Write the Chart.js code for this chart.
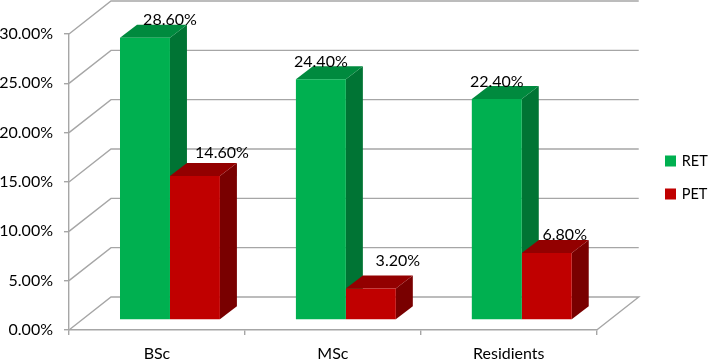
<!DOCTYPE html>
<html>
<head>
<meta charset="utf-8">
<style>
  html, body { margin: 0; padding: 0; background: #fff; }
  canvas { display: block; }
</style>
<script src="https://cdn.jsdelivr.net/npm/chart.js@4/dist/chart.umd.min.js"></script>
</head>
<body>
<canvas id="grafico" width="708" height="359"></canvas>
<script>
// DATA
const categorias = ["BSc", "MSc", "Residients"];
const valoresRET = [28.6, 24.4, 22.4];
const valoresPET = [14.6, 3.2, 6.8];

// 3D look
const fonte = "Lato";
const corGrade = "#a6a6a6";
const paredeDx = 42, paredeDy = 33;   // depth of the walls
const barraX = 13, barraY = 10;       // bars sit a little behind the front plane
const fundoDx = 17, fundoDy = 13;     // depth of one bar
const facesRET = { lado: "#007434", topo: "#008a3e" };
const facesPET = { lado: "#790000", topo: "#930000" };
// label shift from the bar centre, [dx, dy] above the bar top
const rotulosRET = [[25, 18], [0, 17], [0, 17]];
const rotulosPET = [[27, 23], [27, 28], [18, 18]];

function desenhaFaces(ctx, meta, faces) {
  meta.data.forEach((b) => {
    const e = b.x - b.width / 2, d = b.x + b.width / 2;
    ctx.fillStyle = faces.lado;
    ctx.beginPath();
    ctx.moveTo(d, b.y);
    ctx.lineTo(d + fundoDx, b.y - fundoDy);
    ctx.lineTo(d + fundoDx, b.base - fundoDy);
    ctx.lineTo(d, b.base);
    ctx.closePath();
    ctx.fill();
    ctx.fillStyle = faces.topo;
    ctx.beginPath();
    ctx.moveTo(e, b.y);
    ctx.lineTo(e + fundoDx, b.y - fundoDy);
    ctx.lineTo(d + fundoDx, b.y - fundoDy);
    ctx.lineTo(d, b.y);
    ctx.closePath();
    ctx.fill();
  });
}

const paredes = {
  id: "paredes",
  beforeDatasetsDraw(chart) {
    const { ctx, scales: { x, y } } = chart;
    ctx.save();
    ctx.strokeStyle = corGrade;
    ctx.lineWidth = 1.4;
    y.ticks.forEach((t) => {
      const py = y.getPixelForValue(t.value);
      ctx.beginPath();
      ctx.moveTo(x.left, py);
      ctx.lineTo(x.left + paredeDx, py - paredeDy);
      ctx.lineTo(x.right + paredeDx, py - paredeDy);
      if (t.value === 0) ctx.lineTo(x.right, py);
      ctx.stroke();
    });
    ctx.restore();
    // bars are drawn shifted back from the front plane
    ctx.save();
    ctx.translate(barraX, -barraY);
    // RET faces first so the PET tops lie over them
    desenhaFaces(ctx, chart.getDatasetMeta(0), facesRET);
    desenhaFaces(ctx, chart.getDatasetMeta(1), facesPET);
  },
  afterDatasetsDraw(chart) {
    chart.ctx.restore();
  },
  afterDraw(chart) {
    const { ctx } = chart;
    ctx.save();
    ctx.font = `16px ${fonte}`;
    ctx.fillStyle = "#000";
    ctx.textAlign = "center";
    ctx.textBaseline = "middle";
    [valoresRET, valoresPET].forEach((lista, i) => {
      const desloc = i === 0 ? rotulosRET : rotulosPET;
      chart.getDatasetMeta(i).data.forEach((b, j) => {
        ctx.fillText(lista[j].toFixed(2) + "%", b.x + barraX + desloc[j][0], b.y - barraY - desloc[j][1]);
      });
    });
    ctx.restore();
  },
  afterLayout(chart) {
    // legend sits far from the plot
    const l = chart.legend;
    const w = l.right - l.left;
    l.left = 648;
    l.right = l.left + w;
    l.top -= 19;
    l.bottom -= 19;
  }
};

new Chart(document.getElementById("grafico"), {
  type: "bar",
  data: {
    labels: categorias,
    datasets: [
      { label: "RET", data: valoresRET, backgroundColor: "#00b050", clip: false },
      { label: "PET", data: valoresPET, backgroundColor: "#c00000", clip: false }
    ]
  },
  options: {
    responsive: false,
    animation: false,
    devicePixelRatio: 1,
    layout: { padding: { top: 34, right: 41.5 } },
    datasets: { bar: { categoryPercentage: 0.568, barPercentage: 1 } },
    scales: {
      x: {
        grid: { drawOnChartArea: false, color: corGrade, lineWidth: 1.4, tickLength: 5 },
        border: { color: corGrade, width: 1.4 },
        ticks: { color: "#000", font: { family: fonte, size: 16 }, padding: 9 },
        afterFit(s) { s.height = 29; }
      },
      y: {
        min: 0,
        max: 30,
        grid: { drawOnChartArea: false, color: corGrade, lineWidth: 1.4, tickLength: 5 },
        border: { color: corGrade, width: 1.4 },
        ticks: {
          stepSize: 5,
          color: "#000",
          font: { family: fonte, size: 16 },
          padding: 11,
          callback: (v) => v.toFixed(2) + "%"
        },
        afterFit(s) { s.width = 69; }
      }
    },
    plugins: {
      title: { display: false },
      tooltip: { enabled: false },
      legend: {
        position: "right",
        labels: {
          color: "#000",
          font: { family: fonte, size: 14.5 },
          boxWidth: 8,
          boxHeight: 8,
          padding: 18.5,
          generateLabels(chart) {
            // thick stroke gives a full size swatch with the text close to it
            return Chart.defaults.plugins.legend.labels.generateLabels(chart).map((it) => ({
              ...it,
              strokeStyle: it.fillStyle,
              lineWidth: 3,
              lineJoin: "miter"
            }));
          }
        }
      }
    }
  },
  plugins: [paredes]
});
</script>
</body>
</html>
